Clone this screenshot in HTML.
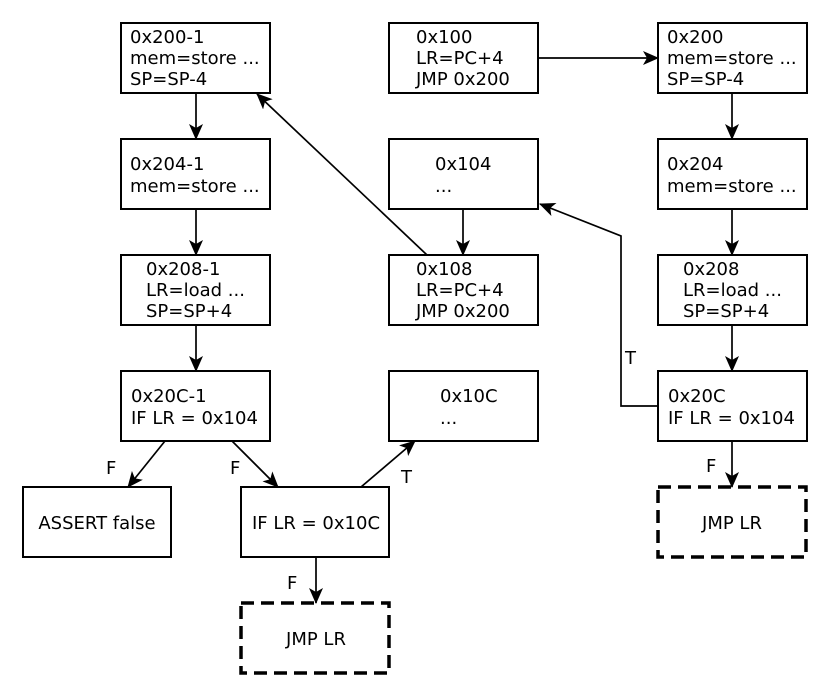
<!DOCTYPE html>
<html><head><meta charset="utf-8"><style>
html,body{margin:0;padding:0;background:#fff;}
svg{display:block;}
text{font-family:"DejaVu Sans","Liberation Sans",sans-serif;font-size:18px;fill:#000;}
</style></head><body>
<svg width="830" height="697" viewBox="0 0 830 697" xmlns="http://www.w3.org/2000/svg">
<defs>
<marker id="a" markerWidth="16" markerHeight="14" refX="15" refY="7" orient="auto" markerUnits="userSpaceOnUse">
<path d="M0,0 L16,7 L0,14 L4,7 Z" fill="#000"/>
</marker>
</defs>
<g fill="#fff" stroke="#000" stroke-width="2">
<rect x="121" y="23" width="149" height="70"/>
<rect x="121" y="139" width="149" height="70"/>
<rect x="121" y="255" width="149" height="70"/>
<rect x="121" y="371" width="149" height="70"/>
<rect x="389" y="23" width="149" height="70"/>
<rect x="389" y="139" width="149" height="70"/>
<rect x="389" y="255" width="149" height="70"/>
<rect x="389" y="371" width="149" height="70"/>
<rect x="658" y="23" width="149" height="70"/>
<rect x="658" y="139" width="149" height="70"/>
<rect x="658" y="255" width="149" height="70"/>
<rect x="658" y="371" width="149" height="70"/>
<rect x="23" y="487" width="148" height="70"/>
<rect x="241" y="487" width="148" height="70"/>
</g>
<g fill="none" stroke="#000" stroke-width="3.5" stroke-dasharray="13,7">
<rect x="241" y="603" width="148" height="70"/>
<rect x="658" y="487" width="148" height="70"/>
</g>
<g stroke="#000" stroke-width="1.7" fill="none" marker-end="url(#a)">
<line x1="196" y1="93" x2="196" y2="139"/>
<line x1="196" y1="209" x2="196" y2="255"/>
<line x1="196" y1="325" x2="196" y2="371"/>
<line x1="538" y1="58" x2="658" y2="58"/>
<line x1="463" y1="209" x2="463" y2="255"/>
<line x1="427" y1="255" x2="257" y2="94"/>
<line x1="732" y1="93" x2="732" y2="139"/>
<line x1="732" y1="209" x2="732" y2="255"/>
<line x1="732" y1="325" x2="732" y2="371"/>
<polyline points="658,406 621,406 621,236 540,204"/>
<line x1="165" y1="441" x2="128" y2="487"/>
<line x1="232" y1="441" x2="278" y2="487"/>
<line x1="361" y1="487" x2="415" y2="441"/>
<line x1="316" y1="557" x2="316" y2="603"/>
<line x1="732" y1="441" x2="732" y2="487"/>
</g>
<text x="130" y="43">0x200-1</text><text x="130" y="64">mem=store ...</text><text x="130" y="85">SP=SP-4</text>
<text x="130" y="170">0x204-1</text><text x="130" y="192">mem=store ...</text>
<text x="146" y="275">0x208-1</text><text x="146" y="296">LR=load ...</text><text x="146" y="317">SP=SP+4</text>
<text x="131" y="402">0x20C-1</text><text x="131" y="424">IF LR = 0x104</text>
<text x="416" y="43">0x100</text><text x="416" y="64">LR=PC+4</text><text x="416" y="85">JMP 0x200</text>
<text x="435" y="170">0x104</text><text x="435" y="192">...</text>
<text x="416" y="275">0x108</text><text x="416" y="296">LR=PC+4</text><text x="416" y="317">JMP 0x200</text>
<text x="440" y="402">0x10C</text><text x="440" y="424">...</text>
<text x="667" y="43">0x200</text><text x="667" y="64">mem=store ...</text><text x="667" y="85">SP=SP-4</text>
<text x="667" y="170">0x204</text><text x="667" y="192">mem=store ...</text>
<text x="683" y="275">0x208</text><text x="683" y="296">LR=load ...</text><text x="683" y="317">SP=SP+4</text>
<text x="668" y="402">0x20C</text><text x="668" y="424">IF LR = 0x104</text>
<text x="97" y="529" text-anchor="middle">ASSERT false</text>
<text x="316" y="529" text-anchor="middle">IF LR = 0x10C</text>
<text x="316" y="645" text-anchor="middle">JMP LR</text>
<text x="732" y="529" text-anchor="middle">JMP LR</text>
<text x="106" y="474">F</text>
<text x="230" y="474">F</text>
<text x="401" y="483">T</text>
<text x="287" y="589">F</text>
<text x="706" y="472">F</text>
<text x="625" y="364">T</text>
</svg>
</body></html>
